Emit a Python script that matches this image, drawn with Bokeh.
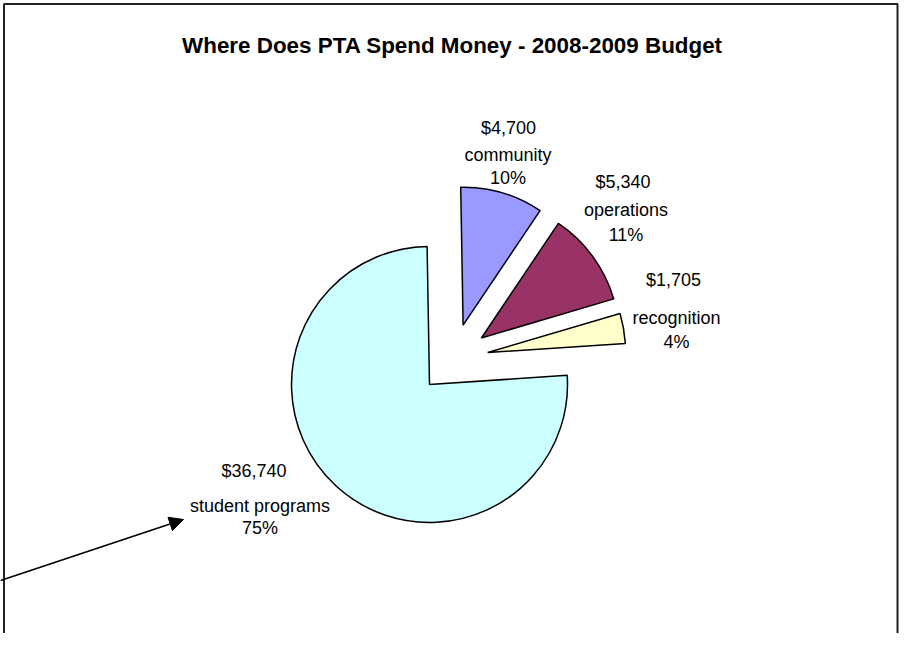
import math
from bokeh.plotting import figure
from bokeh.models import Range1d, ColumnDataSource, Arrow, NormalHead
from bokeh.core.properties import value
from bokeh.embed import file_html
from bokeh.resources import INLINE

# ---- data (clockwise from 12 o'clock) ----
categories = ["community", "operations", "recognition", "student programs"]
amounts = [4700, 5340, 1705, 36740]
percents = [10, 11, 4, 75]
colors = ["#9999FF", "#993366", "#FFFFCC", "#CCFFFF"]
title_text = "Where Does PTA Spend Money - 2008-2009 Budget"

# ---- layout (pixel coordinates) ----
W, H = 899, 633
CX, CY = 452.7, 358.2      # common pie centre
R = 138                    # radius
EXPLODE = 35               # explosion distance
START_DEG = 91             # first slice starts here, going clockwise
FONT = "Liberation Sans"
TEXT_SHIFT = 7.5           # vertical correction for text placement

# label placement: (x of $ line, baseline of $ line, x of name block, baseline name, baseline pct)
label_pos = [
    (508, 135, 507.5, 161.5, 185),
    (622.5, 188.5, 625.5, 216.5, 241.5),
    (673, 286.5, 676, 325, 348.5),
    (253.5, 478, 259.5, 512.5, 535),
]

p = figure(width=W, height=H, x_range=Range1d(0, W), y_range=Range1d(-H, 0),
           output_backend="svg", toolbar_location=None, min_border=0,
           x_axis_location=None, y_axis_location=None, background_fill_color="white")
p.grid.visible = False
p.outline_line_color = None

total = float(sum(amounts))
xs, ys, sa, ea = [], [], [], []
cum = 0.0
for a in amounts:
    s_cw = START_DEG - cum / total * 360.0
    cum += a
    e_cw = START_DEG - cum / total * 360.0
    mid = math.radians((s_cw + e_cw) / 2)
    xs.append(CX + EXPLODE * math.cos(mid))
    ys.append(-CY + EXPLODE * math.sin(mid))
    sa.append(math.radians(e_cw))
    ea.append(math.radians(s_cw))

src = ColumnDataSource(dict(x=xs, y=ys, start=sa, end=ea, color=colors, cat=categories))
p.wedge(x="x", y="y", radius=R, start_angle="start", end_angle="end", direction="anticlock",
        fill_color="color", line_color="black", line_width=1.5, source=src)

# frame
right = min(903, W - 2)
p.line(x=[3.5, 3.5, right, right], y=[-700, -3.5, -3.5, -700], line_color="#222222", line_width=2)

# title
p.text(x=[452], y=[-(50 - 5.5)], text=[title_text], text_font=value(FONT), text_font_size="22.4px",
       text_font_style="bold", text_align="center", text_baseline="alphabetic", text_color="black")

# data labels
lx, ly, lt = [], [], []
for (xd, yd, xn, yn, yp), c, a, pc in zip(label_pos, categories, amounts, percents):
    lx += [xd, xn, xn]
    ly += [-(yd - TEXT_SHIFT), -(yn - TEXT_SHIFT), -(yp - TEXT_SHIFT)]
    lt += [f"${a:,}", c, f"{pc}%"]
p.text(x=lx, y=ly, text=lt, text_font=value(FONT), text_font_size="18px",
       text_align="center", text_baseline="alphabetic", text_color="black")

# arrow pointing at the student programs label
p.add_layout(Arrow(end=NormalHead(size=14, fill_color="black", line_color="black"),
                   x_start=0, y_start=-580, x_end=183, y_end=-519,
                   line_color="black", line_width=1.5))

open("out.html", "w").write(file_html(p, INLINE))
